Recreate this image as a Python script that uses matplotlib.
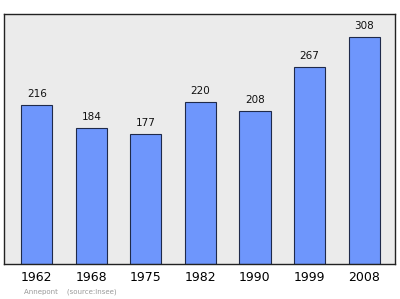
import matplotlib
matplotlib.use("Agg")
import matplotlib.pyplot as plt

years = ["1962", "1968", "1975", "1982", "1990", "1999", "2008"]
population = [216, 184, 177, 220, 208, 267, 308]

fig = plt.figure(figsize=(4.0, 2.99), dpi=100)
ax = fig.add_axes([0.01, 0.117, 0.978, 0.836])
ax.set_facecolor("#ebebeb")
x = range(len(years))
bars = ax.bar(x, population, width=0.57, color="#6e96fc", edgecolor="#1f2a4a", linewidth=0.8)
for xi, v in zip(x, population):
    ax.text(xi, v + 8, str(v), ha="center", va="bottom", fontsize=7.5, color="#111111")
ax.set_xlim(-0.6, 6.57)
ax.set_ylim(0, 339)
ax.set_xticks(list(x))
ax.set_xticklabels(years, fontsize=9)
ax.tick_params(axis="x", length=0, pad=5)
ax.set_yticks([])
for s in ax.spines.values():
    s.set_color("#222222")
    s.set_linewidth(1.0)
fig.text(0.06, 0.018, "Annepont    (source:Insee)", fontsize=5, color="#999999")
fig.savefig("out.png", dpi=100)
